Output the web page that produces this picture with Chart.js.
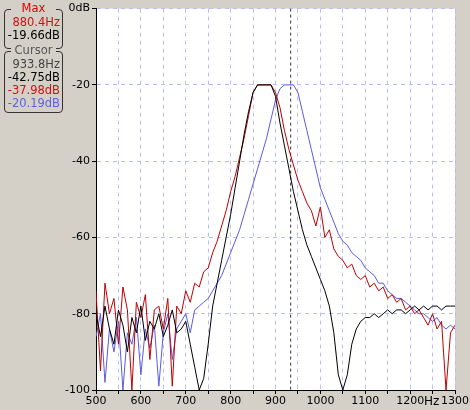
<!DOCTYPE html>
<html>
<head>
<meta charset="utf-8">
<script src="https://cdn.jsdelivr.net/npm/chart.js@4/dist/chart.umd.min.js"></script>
<style>
body { margin: 0; background: #d4d0c8; }
#wrap { position: relative; width: 470px; height: 410px; }
canvas { position: absolute; left: 0; top: 0; }
.box { position: absolute; left: 4px; width: 55px; border: 1px solid #333; border-radius: 4px;
  font: 11.5px "DejaVu Sans", sans-serif; text-align: right; padding-right: 2px; line-height: 13px; }
.box .t { position: absolute; top: -8px; left: 6px; right: 6px; text-align: center; background: #d4d0c8; }
#hz { position: absolute; left: 424px; top: 394px; font: 12px "DejaVu Sans", sans-serif; color: #000; }
</style>
</head>
<body>
<div id="wrap">
<canvas id="c" width="470" height="410"></canvas>
<div class="box" style="top:9px;height:32px;padding-top:6px"><span class="t" style="color:#e00000">Max</span>
<div style="color:#d01010">880.4Hz</div><div>-19.66dB</div></div>
<div class="box" style="top:51px;height:54px;padding-top:6px"><span class="t" style="color:#555">Cursor</span>
<div style="color:#444">933.8Hz</div><div>-42.75dB</div><div style="color:#d01010">-37.98dB</div><div style="color:#6060e0">-20.19dB</div></div>
<div id="hz">Hz</div>
</div>
<script>
const freqs = [];
for (let f = 500; f <= 1300; f += 10) freqs.push(f);

const black = [-80,-86,-78,-84,-88,-79,-83,-90,-81,-85,-78,-87,-82,-84,-80,-86,-83,-79,-85,-84,
  -82,-88,-94,-100,-97,-88,
  -78,-72,-66,-60,-54,-47,-40,-33,-27,-22,-20,-20,-20,-20,-23,-30,-36,-42,-48,-53,-58,-62,-65,-68,-71,-74,-78,-85,-96,-100,-96,-88,-84,-82,-81,
  -81,-80,-81,-80,-79,-80,-79,-79,-80,-79,-78,-79,-78,-79,-78,-78,-79,-78,-78,-78];
const red = [-74,-95,-72,-80,-76,-88,-73,-79,-100,-77,-81,-75,-92,-79,-78,-84,-76,-99,-78,-80,
  -74,-77,-72,-73,-69,-68,
  -64,-61,-57,-53,-48,-44,-39,-34,-28,-22,-20,-20,-20,-20,-22,-26,-32,-37,-41,-45,-48,-51,-53,-57,-52,-60,-58,-63,-65,-66,-68,-67,-70,-71,-70,
  -73,-72,-74,-73,-76,-75,-77,-76,-79,-78,-80,-79,-81,-83,-80,-84,-82,-100,-85,-83];
const blue = [-86,-80,-98,-84,-90,-82,-100,-85,-88,-81,-96,-84,-89,-83,-99,-85,-80,-92,-84,-82,
  -80,-85,-79,-78,-77,-76,
  -74,-72,-70,-67,-64,-61,-58,-54,-50,-46,-42,-38,-34,-29,-24,-21,-20,-20,-20,-22,-27,-32,-37,-42,-47,-50,-53,-56,-59,-61,-62,-64,-65,-66,-68,
  -69,-70,-72,-72,-74,-75,-76,-76,-77,-78,-79,-80,-80,-81,-82,-81,-83,-84,-83,-84];
const cursorHz = 933.8;

const pts = (arr) => arr.map((v, i) => ({ x: freqs[i], y: v }));
const grid = { color: '#bcbcf4', tickLength: 4, tickColor: '#000' };
const border = { color: '#000', width: 1, dash: [4, 4] };

new Chart(document.getElementById('c'), {
  type: 'line',
  data: {
    datasets: [
      { data: pts(black), borderColor: '#000', borderWidth: 1, pointRadius: 0 },
      { data: pts(red), borderColor: '#c00000', borderWidth: 1, pointRadius: 0 },
      { data: pts(blue), borderColor: '#5a5ae0', borderWidth: 1, pointRadius: 0 },
      { data: [{ x: cursorHz, y: 0 }, { x: cursorHz, y: -100 }], borderColor: '#333', borderWidth: 1, borderDash: [3, 3], pointRadius: 0 },
    ],
  },
  options: {
    responsive: false,
    animation: false,
    layout: { padding: { top: 8, right: 11 } },
    plugins: { legend: { display: false }, tooltip: { enabled: false } },
    scales: {
      x: {
        type: 'linear', min: 500, max: 1300,
        afterFit: (s) => { s.height = 20; },
        ticks: { stepSize: 50, autoSkip: false, maxRotation: 0, padding: 1, color: '#000',
          font: { family: 'DejaVu Sans', size: 11 },
          callback: (v) => (v % 100 === 0 ? String(v) : '') },
        grid,
        border,
      },
      y: {
        min: -100, max: 0,
        afterFit: (s) => { s.width = 96; },
        ticks: { stepSize: 20, color: '#000', padding: 2,
          font: { family: 'DejaVu Sans', size: 11 },
          callback: (v) => (v === 0 ? '0dB' : String(v)) },
        grid,
        border,
      },
    },
  },
  plugins: [{
    id: 'bg',
    beforeDraw(chart) {
      const { ctx, chartArea: a } = chart;
      ctx.save();
      ctx.fillStyle = '#fff';
      ctx.fillRect(a.left, a.top, a.right - a.left, a.bottom - a.top);
      ctx.restore();
    },
  }],
});
</script>
</body>
</html>
